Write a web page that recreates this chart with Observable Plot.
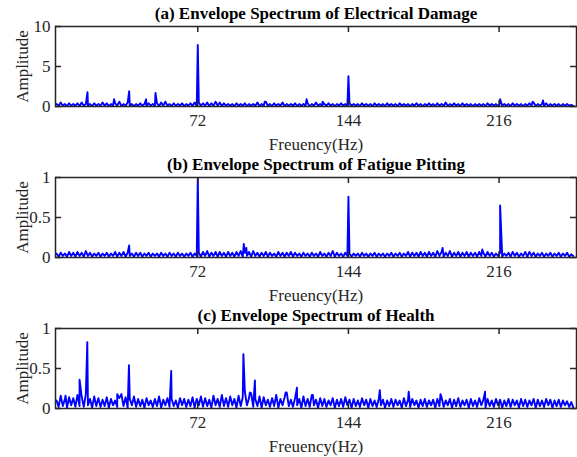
<!DOCTYPE html>
<html>
<head>
<meta charset="utf-8">
<script src="https://cdn.jsdelivr.net/npm/d3@7"></script>
<script src="https://cdn.jsdelivr.net/npm/@observablehq/plot@0.6"></script>
<style>
  html, body { margin: 0; padding: 0; background: #ffffff; }
  #chart { position: relative; width: 577px; height: 457px; overflow: hidden; background: #ffffff; }
  #chart svg { position: absolute; left: 0; background: transparent !important; overflow: visible; }
</style>
</head>
<body>
<div id="chart"></div>
<script>
// ---------- data ----------
const titles = [
  "(a) Envelope Spectrum of Electrical Damage",
  "(b) Envelope Spectrum of Fatigue Pitting",
  "(c) Envelope Spectrum of Health"
];
const xLabel = "Freuency(Hz)";
const yLabel = "Amplitude";
const xTicks = [72, 144, 216];
const yTicksA = [0, 5, 10];
const yTicksBC = [0, 0.5, 1];
const xDomain = [4, 253];

// noise floor sampled on a 1 Hz grid starting at 4.5 Hz
const noiseStartHz = 4.5;
const noiseStepHz = 1;

const noiseA = [
  0.3,0.1,0.5,0.1,0.3,0.05,0.4,0.1,0.3,0.1,0.4,0.05,0.5,0.1,0.3,0.1,0.3,0.05,0.4,0.1,
  0.3,0.1,0.5,0.1,0.4,0.05,0.3,0.1,0.4,0.1,0.6,0.05,0.3,0.1,0.5,0.1,0.3,0.05,0.3,0.1,
  0.4,0.1,0.3,0.05,0.4,0.1,0.3,0.1,0.4,0.05,0.5,0.1,0.6,0.1,0.3,0.05,0.4,0.1,0.3,0.1,
  0.4,0.05,0.3,0.1,0.4,0.1,0.5,0.05,0.5,0.1,0.4,0.1,0.5,0.05,0.4,0.1,0.6,0.1,0.5,0.05,
  0.4,0.1,0.3,0.1,0.3,0.05,0.4,0.1,0.3,0.1,0.4,0.05,0.3,0.1,0.3,0.1,0.5,0.05,0.3,0.1,
  0.6,0.1,0.3,0.05,0.4,0.1,0.3,0.1,0.5,0.05,0.3,0.1,0.3,0.1,0.4,0.05,0.3,0.1,0.3,0.1,
  0.4,0.05,0.3,0.1,0.5,0.1,0.3,0.05,0.3,0.1,0.4,0.1,0.3,0.05,0.3,0.1,0.4,0.1,0.3,0.05,
  0.4,0.1,0.3,0.1,0.3,0.05,0.4,0.1,0.3,0.1,0.3,0.05,0.4,0.1,0.3,0.1,0.3,0.05,0.4,0.1,
  0.3,0.1,0.3,0.05,0.4,0.1,0.3,0.1,0.3,0.05,0.3,0.1,0.4,0.1,0.3,0.05,0.3,0.1,0.4,0.1,
  0.3,0.05,0.4,0.1,0.3,0.1,0.5,0.05,0.3,0.1,0.4,0.1,0.3,0.05,0.4,0.1,0.3,0.1,0.3,0.05,
  0.3,0.1,0.3,0.1,0.3,0.05,0.4,0.1,0.3,0.1,0.3,0.05,0.4,0.1,0.3,0.1,0.3,0.05,0.4,0.1,
  0.3,0.1,0.3,0.05,0.3,0.1,0.4,0.1,0.5,0.05,0.3,0.1,0.3,0.1,0.4,0.05,0.3,0.1,0.3,0.1,
  0.3,0.05,0.3,0.1,0.3,0.1,0.2,0.05
];
const peaksAHz  = [19.3, 32, 39.2, 47.3, 51.8, 72, 104, 124, 131.6, 144, 216.5, 232, 237];
const peaksAAmp = [1.8, 0.9, 1.9, 0.9, 1.7, 7.7, 0.6, 0.9, 0.6, 3.8, 0.9, 0.6, 0.75];

const noiseB = [
  0.05,0.01,0.06,0.02,0.05,0.01,0.07,0.02,0.06,0.01,0.07,0.02,0.06,0.01,0.08,0.02,0.06,0.01,0.05,0.02,
  0.06,0.01,0.05,0.02,0.06,0.01,0.05,0.02,0.07,0.01,0.06,0.02,0.07,0.01,0.06,0.02,0.05,0.01,0.06,0.02,
  0.06,0.01,0.05,0.02,0.06,0.01,0.05,0.02,0.05,0.01,0.06,0.02,0.05,0.01,0.06,0.02,0.05,0.01,0.06,0.02,
  0.05,0.01,0.05,0.02,0.06,0.01,0.05,0.02,0.06,0.01,0.07,0.02,0.08,0.01,0.06,0.02,0.07,0.01,0.07,0.02,
  0.06,0.01,0.07,0.02,0.06,0.01,0.07,0.02,0.08,0.01,0.06,0.02,0.07,0.01,0.08,0.02,0.06,0.01,0.06,0.02,
  0.07,0.01,0.06,0.02,0.05,0.01,0.07,0.02,0.06,0.01,0.06,0.02,0.07,0.01,0.06,0.02,0.05,0.01,0.06,0.02,
  0.05,0.01,0.06,0.02,0.05,0.01,0.07,0.02,0.05,0.01,0.06,0.02,0.08,0.01,0.06,0.02,0.05,0.01,0.06,0.02,
  0.05,0.01,0.05,0.02,0.05,0.01,0.06,0.02,0.05,0.01,0.05,0.02,0.06,0.01,0.05,0.02,0.05,0.01,0.05,0.02,
  0.06,0.01,0.05,0.02,0.06,0.01,0.05,0.02,0.07,0.01,0.06,0.02,0.06,0.01,0.07,0.02,0.06,0.01,0.07,0.02,
  0.06,0.01,0.08,0.02,0.07,0.01,0.06,0.02,0.08,0.01,0.06,0.02,0.07,0.01,0.06,0.02,0.07,0.01,0.06,0.02,
  0.06,0.01,0.07,0.02,0.06,0.01,0.07,0.02,0.06,0.01,0.05,0.02,0.06,0.01,0.05,0.02,0.06,0.01,0.07,0.02,
  0.06,0.01,0.05,0.02,0.07,0.01,0.07,0.02,0.06,0.01,0.05,0.02,0.06,0.01,0.05,0.02,0.06,0.01,0.05,0.02,
  0.06,0.01,0.05,0.02,0.06,0.01,0.04,0.02
];
const peaksBHz  = [39.2, 72, 94, 95.2, 144, 189, 208, 216.5];
const peaksBAmp = [0.15, 0.99, 0.17, 0.12, 0.76, 0.12, 0.10, 0.65];

const noiseC = [
  0.10,0.02,0.16,0.03,0.12,0.01,0.14,0.04,0.13,0.02,0.17,0.03,0.15,0.02,0.18,0.04,0.12,0.01,0.15,0.03,
  0.13,0.02,0.11,0.03,0.14,0.01,0.12,0.04,0.10,0.02,0.13,0.18,0.03,0.14,0.01,0.12,0.04,0.15,0.02,0.12,
  0.03,0.11,0.01,0.13,0.04,0.10,0.02,0.12,0.03,0.15,0.01,0.11,0.04,0.13,0.02,0.12,0.03,0.10,0.01,0.13,
  0.04,0.12,0.02,0.11,0.03,0.14,0.01,0.12,0.04,0.15,0.02,0.13,0.03,0.11,0.01,0.16,0.04,0.12,0.02,0.17,
  0.03,0.13,0.02,0.15,0.04,0.12,0.01,0.16,0.03,0.14,0.21,0.04,0.13,0.19,0.02,0.12,0.03,0.15,0.01,0.14,
  0.04,0.11,0.02,0.13,0.03,0.17,0.01,0.12,0.04,0.14,0.20,0.03,0.11,0.02,0.13,0.04,0.12,0.01,0.15,0.03,
  0.12,0.02,0.17,0.04,0.11,0.01,0.13,0.03,0.12,0.02,0.10,0.04,0.13,0.01,0.11,0.03,0.12,0.02,0.14,0.04,
  0.11,0.01,0.12,0.03,0.10,0.02,0.13,0.04,0.11,0.01,0.12,0.03,0.10,0.02,0.12,0.04,0.11,0.01,0.10,0.03,
  0.12,0.02,0.11,0.04,0.10,0.01,0.13,0.03,0.11,0.02,0.12,0.04,0.10,0.01,0.11,0.03,0.12,0.02,0.10,0.04,
  0.11,0.01,0.12,0.03,0.14,0.02,0.10,0.04,0.12,0.01,0.11,0.03,0.13,0.02,0.10,0.04,0.11,0.01,0.12,0.03,
  0.10,0.02,0.13,0.04,0.11,0.01,0.12,0.03,0.10,0.02,0.12,0.04,0.11,0.01,0.10,0.03,0.12,0.02,0.11,0.04,
  0.10,0.01,0.12,0.03,0.11,0.02,0.10,0.04,0.12,0.01,0.11,0.03,0.10,0.02,0.12,0.04,0.11,0.01,0.10,0.03,
  0.11,0.02,0.10,0.04,0.09,0.02,0.08,0.01
];
const peaksCHz  = [8.8, 15.5, 19.2, 33.5, 39.1, 59.3, 93.8, 96.9, 99.3, 114, 119.4, 127, 159, 172.8, 188, 209.3];
const peaksCAmp = [0.16, 0.36, 0.83, 0.18, 0.54, 0.47, 0.68, 0.20, 0.35, 0.20, 0.26, 0.17, 0.23, 0.21, 0.18, 0.21];

// ---------- drawing ----------
const font = "'Liberation Serif', 'Times New Roman', serif";
const axisColor = "#262626";
const lineColor = "#0000ff";

function series(noise, peakHz, peakAmp) {
  const pts = noise.map((a, i) => ({f: noiseStartHz + i * noiseStepHz, a}));
  peakHz.forEach((f, i) => pts.push({f, a: peakAmp[i]}));
  return pts.sort((p, q) => p.f - q.f);
}

function panel(title, data, yDomain, yTicks, top) {
  const svg = Plot.plot({
    width: 577,
    height: 155,
    marginLeft: 55,
    marginRight: 1,
    marginTop: 26,
    marginBottom: 49,
    style: {fontFamily: font, fontSize: "17px", color: axisColor, background: "transparent", overflow: "visible"},
    x: {domain: xDomain, axis: null},
    y: {domain: yDomain, axis: null},
    marks: [
      Plot.line(data, {x: "f", y: "a", stroke: lineColor, strokeWidth: 1.9, clip: true}),
      Plot.frame({stroke: axisColor, strokeWidth: 1.5}),
      Plot.tickX(xTicks, {x: d => d, insetTop: 74, stroke: axisColor, strokeWidth: 1.5}),
      Plot.tickX(xTicks, {x: d => d, insetBottom: 74, stroke: axisColor, strokeWidth: 1.5}),
      Plot.tickY(yTicks, {y: d => d, insetRight: 515, stroke: axisColor, strokeWidth: 1.5}),
      Plot.tickY(yTicks, {y: d => d, insetLeft: 515, stroke: axisColor, strokeWidth: 1.5}),
      Plot.axisX(xTicks, {tickSize: 0, tickPadding: 7, label: null, fontSize: 17, fill: axisColor}),
      Plot.axisY(yTicks, {tickSize: 0, tickPadding: 5, label: null, tickFormat: d => String(d), fontSize: 17, fill: axisColor}),
      Plot.text([xLabel], {frameAnchor: "bottom", lineAnchor: "middle", dy: 38, fontSize: 17, fill: axisColor}),
      Plot.text([yLabel], {frameAnchor: "left", textAnchor: "middle", lineAnchor: "middle", dx: -33, rotate: -90, fontSize: 17, fill: axisColor}),
      Plot.text([title], {frameAnchor: "top", lineAnchor: "middle", dy: -13, fontSize: 17, fontWeight: "bold", fill: "#000000"})
    ]
  });
  svg.style.top = top + "px";
  return svg;
}

const chart = document.getElementById("chart");
chart.appendChild(panel(titles[0], series(noiseA, peaksAHz, peaksAAmp), [0, 10], yTicksA, 0));
chart.appendChild(panel(titles[1], series(noiseB, peaksBHz, peaksBAmp), [0, 1], yTicksBC, 151));
chart.appendChild(panel(titles[2], series(noiseC, peaksCHz, peaksCAmp), [0, 1], yTicksBC, 302));
</script>
</body>
</html>
